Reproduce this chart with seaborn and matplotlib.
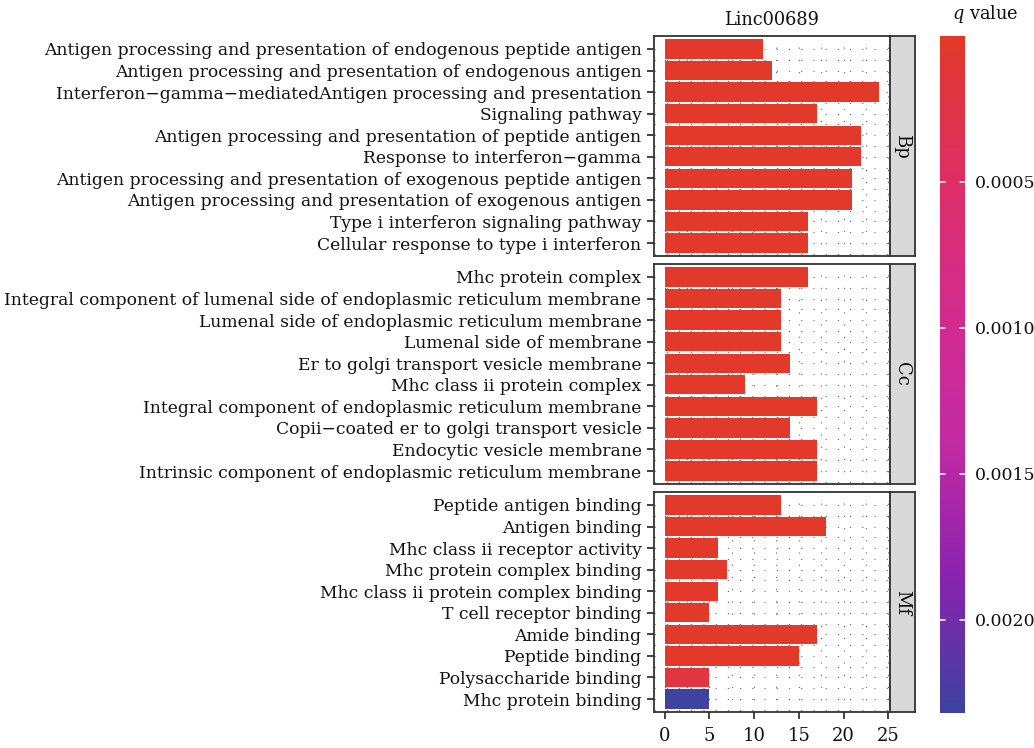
import numpy as np
import pandas as pd
import matplotlib
matplotlib.use("Agg")
import matplotlib.pyplot as plt
import seaborn as sns
from matplotlib.colors import LinearSegmentedColormap, Normalize

# ---------------- data ----------------
bp_terms = [
    "Antigen processing and presentation of endogenous peptide antigen",
    "Antigen processing and presentation of endogenous antigen",
    "Interferon\u2212gamma\u2212mediatedAntigen processing and presentation",
    "Signaling pathway",
    "Antigen processing and presentation of peptide antigen",
    "Response to interferon\u2212gamma",
    "Antigen processing and presentation of exogenous peptide antigen",
    "Antigen processing and presentation of exogenous antigen",
    "Type i interferon signaling pathway",
    "Cellular response to type i interferon",
]
bp_counts = [11, 12, 24, 17, 22, 22, 21, 21, 16, 16]
bp_q = [0.00001, 0.00001, 0.00001, 0.00001, 0.00001, 0.00001, 0.00001, 0.00001, 0.00001, 0.00001]

cc_terms = [
    "Mhc protein complex",
    "Integral component of lumenal side of endoplasmic reticulum membrane",
    "Lumenal side of endoplasmic reticulum membrane",
    "Lumenal side of membrane",
    "Er to golgi transport vesicle membrane",
    "Mhc class ii protein complex",
    "Integral component of endoplasmic reticulum membrane",
    "Copii\u2212coated er to golgi transport vesicle",
    "Endocytic vesicle membrane",
    "Intrinsic component of endoplasmic reticulum membrane",
]
cc_counts = [16, 13, 13, 13, 14, 9, 17, 14, 17, 17]
cc_q = [0.00001, 0.00001, 0.00001, 0.00001, 0.00001, 0.00001, 0.00001, 0.00001, 0.00001, 0.00001]

mf_terms = [
    "Peptide antigen binding",
    "Antigen binding",
    "Mhc class ii receptor activity",
    "Mhc protein complex binding",
    "Mhc class ii protein complex binding",
    "T cell receptor binding",
    "Amide binding",
    "Peptide binding",
    "Polysaccharide binding",
    "Mhc protein binding",
]
mf_counts = [13, 18, 6, 7, 6, 5, 17, 15, 5, 5]
mf_q = [0.00001, 0.00001, 0.00001, 0.00001, 0.00001, 0.00001, 0.00001, 0.00001, 0.00018, 0.00232]

groups = ["Bp", "Cc", "Mf"]
title = "Linc00689"
x_ticks = [0, 5, 10, 15, 20, 25]
cbar_ticks = [0.0005, 0.0010, 0.0015, 0.0020]

# ---------------- style ----------------
sns.set_theme(style="white")
plt.rcParams["font.family"] = ["DejaVu Serif"]
plt.rcParams["mathtext.fontset"] = "dejavuserif"
plt.rcParams["text.color"] = "#111111"

cmap = LinearSegmentedColormap.from_list(
    "qv", ["#E2392A", "#DE2F63", "#D42C8C", "#C22BA2", "#8A24AE", "#3E42A0"])
qmin, qmax = 0.0, 0.00232
norm = Normalize(vmin=qmin, vmax=qmax)

W, H = 1034, 748
fig = plt.figure(figsize=(W / 100, H / 100), dpi=100)

def fx(px):
    return px / W

def fy(py):
    return 1 - py / H

panel_left, panel_right = 654, 890
strip_right = 915
panels_y = [(36, 256), (264, 484), (492, 712)]

data = [(bp_terms, bp_counts, bp_q), (cc_terms, cc_counts, cc_q), (mf_terms, mf_counts, mf_q)]

for i, ((terms, counts, qs), (y0, y1)) in enumerate(zip(data, panels_y)):
    ax = fig.add_axes([fx(panel_left), fy(y1), fx(panel_right - panel_left), (y1 - y0) / H])
    df = pd.DataFrame({"term": terms, "count": counts, "q": qs})
    pal = {t: cmap(norm(q)) for t, q in zip(terms, qs)}
    # dotted grid drawn first
    for xv in np.arange(0, 25.01, 2.5):
        ax.axvline(xv, color="#666666", lw=0.8, ls=(0, (1, 10)), zorder=0)
    for yv in np.arange(0, 10, 0.5):
        ax.axhline(yv, color="#666666", lw=0.8, ls=(0, (1, 10)), zorder=0)
    sns.barplot(data=df, x="count", y="term", hue="term", palette=pal,
                order=terms, hue_order=terms, legend=False, width=0.9,
                ax=ax, saturation=1, zorder=2)
    for p in ax.patches:
        p.set_edgecolor("none")
    ax.set_xlim(-1.2, 25.2)
    ax.set_ylim(9.6, -0.6)
    ax.set_xlabel("")
    ax.set_ylabel("")
    ax.tick_params(axis="y", length=5, width=1.2, color="#222222", pad=4,
                   labelsize=12.3, left=True, labelcolor="#111111")
    ax.set_xticks(x_ticks)
    if i == 2:
        ax.tick_params(axis="x", length=5, width=1.2, color="#222222", pad=6,
                       labelsize=13, bottom=True, labelcolor="#111111")
    else:
        ax.tick_params(axis="x", bottom=False, labelbottom=False)
    for s in ax.spines.values():
        s.set_color("#333333")
        s.set_linewidth(1.3)
    if i == 0:
        ax.set_title(title, fontsize=12.8, pad=8, color="#111111")
    # strip
    sax = fig.add_axes([fx(panel_right), fy(y1), fx(strip_right - panel_right), (y1 - y0) / H])
    sax.set_facecolor("#D9D9D9")
    sax.set_xticks([])
    sax.set_yticks([])
    for s in sax.spines.values():
        s.set_color("#333333")
        s.set_linewidth(1.3)
    sax.text(0.5, 0.5, groups[i], rotation=-90, ha="center", va="center",
             fontsize=13, color="#111111", transform=sax.transAxes)

# colorbar
cax = fig.add_axes([fx(940), fy(713), fx(25), (713 - 36) / H])
grad = np.linspace(qmin, qmax, 300).reshape(-1, 1)
cax.imshow(grad, aspect="auto", cmap=cmap, norm=norm, origin="upper",
           extent=[0, 1, qmax, qmin])
cax.set_xlim(0, 1)
cax.set_ylim(qmax, qmin)
cax.set_xticks([])
cax.yaxis.tick_right()
cax.set_yticks(cbar_ticks)
cax.set_yticklabels([f"{t:.4f}" for t in cbar_ticks])
cax.tick_params(axis="y", length=0, pad=7, labelsize=12.5, labelcolor="#111111")
for t in cbar_ticks:
    cax.plot([0, 0.2], [t, t], color="white", lw=1.1)
    cax.plot([0.8, 1.0], [t, t], color="white", lw=1.1)
for s in cax.spines.values():
    s.set_visible(False)
fig.text(fx(985), fy(14), "$q$ value", ha="center", va="center", fontsize=12.8,
         color="#111111")

fig.savefig("out.png", dpi=100)
